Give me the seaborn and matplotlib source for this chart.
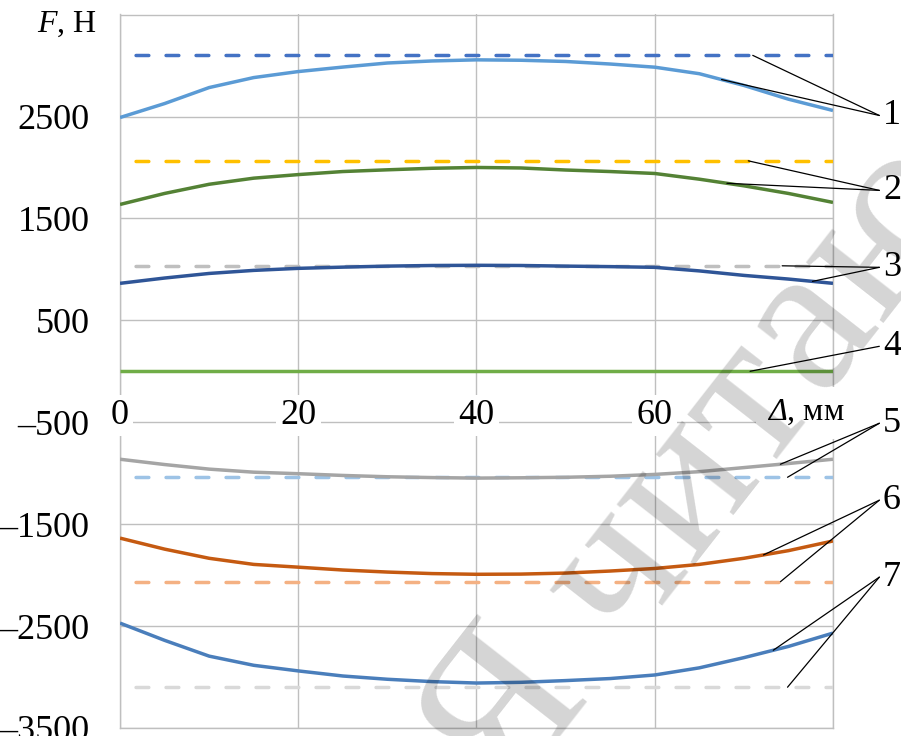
import numpy as np
import pandas as pd
import seaborn as sns
import matplotlib.pyplot as plt

# displacement, mm
x_mm = [0, 5, 10, 15, 20, 25, 30, 35, 40, 45, 50, 55, 60, 65, 70, 75, 80]
x_lim = [0, 80]

# forces F, N (solid curves)
f1 = [2490, 2627, 2784, 2882, 2941, 2985, 3025, 3045, 3056, 3052, 3040, 3015, 2984, 2920, 2805, 2670, 2559]
f2 = [1637, 1745, 1835, 1895, 1930, 1960, 1977, 1992, 2000, 1995, 1975, 1960, 1941, 1885, 1820, 1745, 1657]
f3 = [863, 915, 960, 990, 1010, 1022, 1032, 1038, 1040, 1038, 1032, 1027, 1020, 985, 941, 905, 863]
f4 = [0, 0, 0, 0, 0, 0, 0, 0, 0, 0, 0, 0, 0, 0, 0, 0, 0]
f5 = [-863, -915, -960, -990, -1005, -1022, -1035, -1043, -1048, -1045, -1040, -1030, -1012, -985, -945, -905, -863]
f6 = [-1637, -1745, -1835, -1895, -1922, -1950, -1970, -1985, -1992, -1990, -1980, -1960, -1935, -1895, -1835, -1760, -1665]
f7 = [-2471, -2640, -2795, -2885, -2940, -2990, -3022, -3045, -3059, -3052, -3035, -3015, -2980, -2910, -2810, -2700, -2569]

# limit levels (dashed)
d1 = [3100, 3100]
d2 = [2065, 2065]
d3 = [1035, 1035]
d5 = [-1040, -1040]
d6 = [-2065, -2065]
d7 = [-3100, -3100]

y_ticks = [-3500, -2500, -1500, -500, 500, 1500, 2500, 3500]
x_ticks = [0, 20, 40, 60, 80]
x_tick_labels = ["0", "20", "40", "60", ""]

# curve number, leader line end x on each curve, label height
labels = ["1", "2", "3", "4", "5", "6", "7"]
label_y = [2510, 1775, 1020, 245, -510, -1265, -2020]
leader_x = [
    [("d1", 71.0), ("f1", 67.5)],
    [("d2", 70.5), ("f2", 68.1)],
    [("d3", 74.3), ("f3", 77.7)],
    [("f4", 70.7)],
    [("f5", 74.1), ("d5", 74.9)],
    [("f6", 72.2), ("d6", 74.1)],
    [("f7", 73.3), ("d7", 74.9)],
]

solid = {"f1": (f1, "#5B9BD5"), "f2": (f2, "#548235"), "f3": (f3, "#2F5597"),
         "f4": (f4, "#70AD47"), "f5": (f5, "#A5A5A5"), "f6": (f6, "#C55A11"),
         "f7": (f7, "#4A7EBB")}
dashed = {"d1": (d1, "#4472C4"), "d2": (d2, "#FFC000"), "d3": (d3, "#BFBFBF"),
          "d5": (d5, "#9DC3E6"), "d6": (d6, "#F4B183"), "d7": (d7, "#D9D9D9")}

sns.set_theme(style="whitegrid")
plt.rcParams["font.family"] = ["Liberation Serif", "DejaVu Serif"]
plt.rcParams["mathtext.fontset"] = "custom"
plt.rcParams["mathtext.rm"] = "Liberation Serif"
plt.rcParams["mathtext.it"] = "Liberation Serif:italic"
# greek capitals are forced upright in \mathit, so use sf slot for italic Delta
plt.rcParams["mathtext.sf"] = "Liberation Serif:italic"
plt.rcParams["lines.scale_dashes"] = False

fig = plt.figure(figsize=(9.01, 7.36), dpi=100)
ax = fig.add_axes([0.1332, 0.0109, 0.7913, 0.9701])

for key, (vals, col) in dashed.items():
    sns.lineplot(x=x_lim, y=vals, ax=ax, color=col, lw=2.5,
                 linestyle=(10.4, (9.2, 12.4)), dash_capstyle="round",
                 legend=False, estimator=None, sort=False)
for key, (vals, col) in solid.items():
    sns.lineplot(x=x_mm, y=vals, ax=ax, color=col, lw=2.5,
                 solid_capstyle="butt", solid_joinstyle="round",
                 legend=False, estimator=None, sort=False)

ax.set_xlim(0, 80)
ax.set_ylim(-3500, 3506)
ax.set_yticks(y_ticks)
ax.set_yticklabels([f"{v}".replace("-", "\u2013") if v != 3500 else "" for v in y_ticks])
ax.set_xticks(x_ticks)
ax.set_xticklabels(x_tick_labels)

# x labels sit on the -500 grid line
ax.xaxis.set_ticks_position("top")
ax.spines["top"].set_position(("data", -500))
ax.spines["top"].set_visible(False)
ax.tick_params(axis="x", length=0, pad=-7, labelsize=26, labeltop=True, labelbottom=False)
ax.tick_params(axis="y", length=0, pad=22, labelsize=26, colors="black")
ax.tick_params(axis="x", colors="black")
for lbl in ax.get_xticklabels():
    lbl.set_bbox(dict(boxstyle="square,pad=0.12", fc="white", ec="none"))

ax.grid(True, color="#BFBFBF", lw=1.0)
for side in ["left", "right", "bottom"]:
    ax.spines[side].set_color("#BFBFBF")
    ax.spines[side].set_linewidth(1.0)
    ax.spines[side].set_zorder(0.3)
ax.yaxis.set_zorder(0.4)
ax.xaxis.set_zorder(0.6)

ax.set_ylabel("$F$, Н", rotation=0, fontsize=23, ha="center", va="center", color="black")
ax.yaxis.set_label_coords(-0.074, 0.985)
ax.set_xlabel(r"$\mathsf{\Delta}$, мм", fontsize=23, ha="center", va="baseline", color="black",
              bbox=dict(boxstyle="square,pad=0.35", fc="white", ec="none"))
ax.xaxis.set_label_coords(0.962, 0.431)

series = {**{k: (x_mm, v[0]) for k, v in solid.items()},
          **{k: (x_lim, v[0]) for k, v in dashed.items()}}
for lab, ly, targets in zip(labels, label_y, leader_x):
    ax.text(85.6, ly, lab, ha="left", va="center", fontsize=26, color="black", clip_on=False)
    for key, tx in targets:
        xs, ys = series[key]
        ty = np.interp(tx, xs, ys)
        ax.annotate("", xy=(tx, ty), xytext=(85.2, ly),
                    arrowprops=dict(arrowstyle="-", color="black", lw=0.9,
                                    shrinkA=0, shrinkB=0),
                    annotation_clip=False)

# watermark
fig.text(0.824, 0.315, "Я читаю", rotation=52, fontsize=155, color="black", alpha=0.17,
         ha="center", va="baseline", rotation_mode="anchor", zorder=10)

fig.savefig("out.png", dpi=100)
